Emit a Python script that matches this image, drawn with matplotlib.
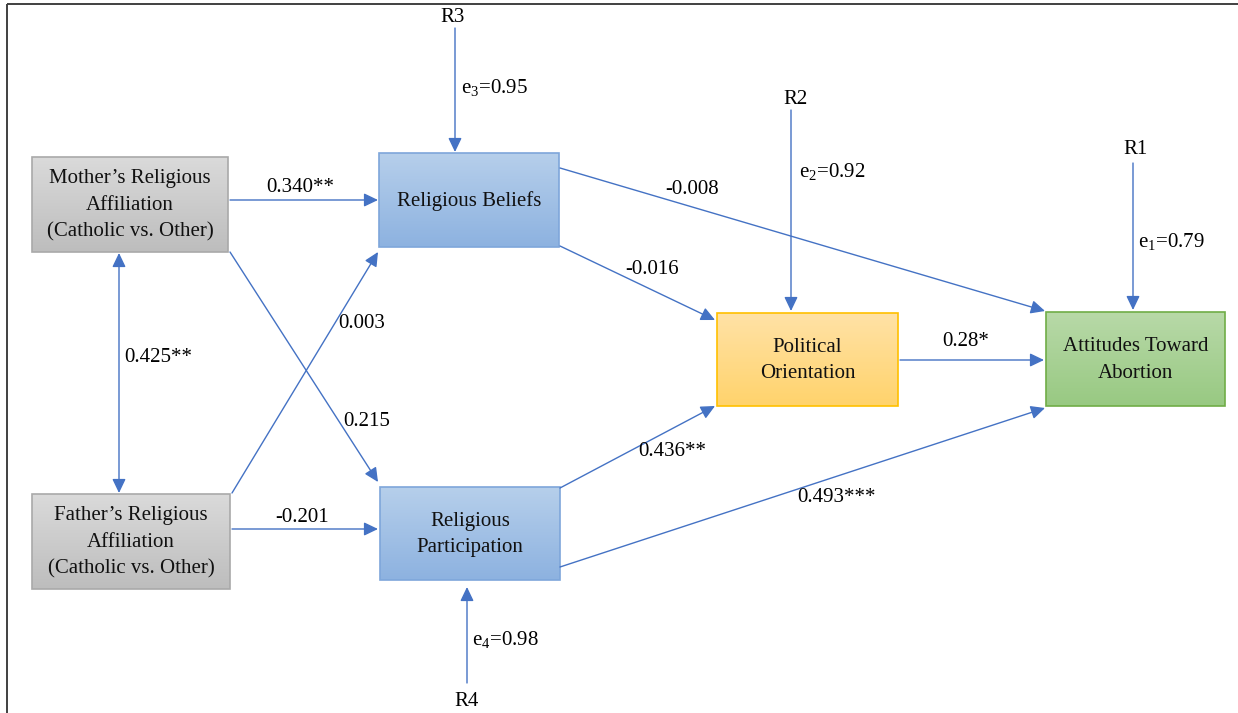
import numpy as np
import matplotlib as mpl
import matplotlib.pyplot as plt
from matplotlib.patches import Rectangle, FancyArrowPatch
from matplotlib.colors import LinearSegmentedColormap

mpl.use('Agg')
plt.rcParams['font.family'] = ['Liberation Serif', 'DejaVu Serif']
plt.rcParams['mathtext.fontset'] = 'custom'
plt.rcParams['mathtext.rm'] = 'Liberation Serif'
plt.rcParams['mathtext.default'] = 'regular'

# path model: variables, path coefficients, residuals
nodes = ['mother', 'father', 'beliefs', 'particip', 'political', 'attitude']
node_labels = ["Mother\u2019s Religious\nAffiliation\n(Catholic vs. Other)",
               "Father\u2019s Religious\nAffiliation\n(Catholic vs. Other)",
               "Religious Beliefs",
               "Religious\nParticipation",
               "Political\nOrientation",
               "Attitudes Toward\nAbortion"]
path_from = ['mother', 'mother', 'father', 'father', 'beliefs', 'beliefs', 'particip', 'particip', 'political']
path_to = ['beliefs', 'particip', 'beliefs', 'particip', 'political', 'attitude', 'political', 'attitude', 'attitude']
path_coef = ['0.340**', '0.215', '0.003', '-0.201', '-0.016', '-0.008', '0.436**', '0.493***', '0.28*']
corr_label = '0.425**'
resid_names = ['R1', 'R2', 'R3', 'R4']
resid_target = ['attitude', 'political', 'beliefs', 'particip']
resid_values = ['0.79', '0.92', '0.95', '0.98']

# layout in pixel units (x0, y0, x1, y1)
boxes = {
    'mother': (32, 157, 228, 252),
    'father': (32, 494, 230, 589),
    'beliefs': (379, 153, 559, 247),
    'particip': (380, 487, 560, 580),
    'political': (717, 313, 898, 406),
    'attitude': (1046, 312, 1225, 406),
}
styles = {
    'mother': ('#dadada', '#bdbdbd', '#a9a9a9'),
    'father': ('#dadada', '#bdbdbd', '#a9a9a9'),
    'beliefs': ('#b6cfeb', '#8db2e0', '#7ea6da'),
    'particip': ('#b6cfeb', '#8db2e0', '#7ea6da'),
    'political': ('#ffe2a6', '#ffd36c', '#ffc000'),
    'attitude': ('#b8d9a8', '#98c982', '#70ad47'),
}
# arrow start/end points and label positions
path_pts = [((230, 200), (378, 200), (300, 187)),
            ((230, 252), (378, 482), (367, 421)),
            ((232, 493), (378, 252), (362, 323)),
            ((232, 529), (378, 529), (302, 517)),
            ((560, 246), (715, 320), (652, 270)),
            ((560, 168), (1045, 311), (692, 189)),
            ((560, 488), (715, 406), (672, 452)),
            ((560, 567), (1045, 408), (836, 497)),
            ((900, 360), (1044, 360), (966, 341))]
resid_pts = {'R1': ((1135, 150), 1133, 163, 310, (1138, 241)),
             'R2': ((795, 99), 791, 110, 311, (799, 172)),
             'R3': ((453, 18), 455, 28, 152, (461, 88)),
             'R4': ((467, 702), 467, 683, 587, (472, 640))}

W, H = 1238, 713
fig = plt.figure(figsize=(W / 100, H / 100), dpi=100)
ax = fig.add_axes([0, 0, 1, 1])
ax.axis('off')

# frame lines
ax.plot([7, W], [4, 4], color='#404040', lw=1.4, solid_capstyle='butt')
ax.plot([7, 7], [4, H], color='#404040', lw=1.4, solid_capstyle='butt')

fs = 15
blue = '#4472c4'

for name, lab in zip(nodes, node_labels):
    x0, y0, x1, y1 = boxes[name]
    top, bot, edge = styles[name]
    cmap = LinearSegmentedColormap.from_list(name, [top, bot])
    grad = np.linspace(0, 1, 100).reshape(-1, 1)
    ax.imshow(grad, cmap=cmap, extent=(x0, x1, y1, y0), aspect='auto', zorder=1)
    ax.add_patch(Rectangle((x0, y0), x1 - x0, y1 - y0, fill=False, ec=edge, lw=1.2, zorder=2))
    ax.text((x0 + x1) / 2, (y0 + y1) / 2 + 1, lab, ha='center', va='center', fontsize=fs,
            linespacing=1.55, color='#111111', zorder=3)
ax.set_xlim(0, W)
ax.set_ylim(H, 0)


def arrow(p0, p1, style='-|>'):
    a = FancyArrowPatch(p0, p1, arrowstyle=style + ',head_length=0.5,head_width=0.24',
                        mutation_scale=17, color=blue,
                        lw=1.0, shrinkA=0, shrinkB=0, zorder=4)
    ax.add_patch(a)


for (p0, p1, lp), coef in zip(path_pts, path_coef):
    arrow(p0, p1)
    ax.text(lp[0], lp[1], coef, ha='center', va='center', fontsize=fs, zorder=5)

# correlation between parents
arrow((119, 253), (119, 493), style='<|-|>')
ax.text(158, 358, corr_label, ha='center', va='center', fontsize=fs)

for rn, val in zip(resid_names, resid_values):
    tp, lx, ys, ye, lp = resid_pts[rn]
    ax.text(tp[0], tp[1], rn, ha='center', va='center', fontsize=fs)
    arrow((lx, ys), (lx, ye))
    ax.text(lp[0], lp[1], 'e$_{%s}$=%s' % (rn[1], val), ha='left', va='center', fontsize=fs)

plt.savefig('out.png', dpi=100)
